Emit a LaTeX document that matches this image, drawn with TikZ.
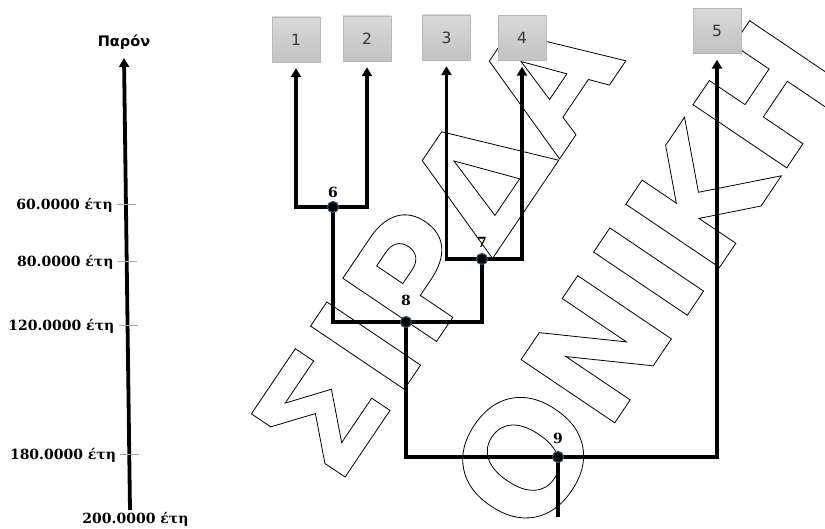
\documentclass[tikz,border=0pt]{standalone}
\usepackage{fontspec}
\usepackage{xcolor}
\usepackage{tikz}
\usetikzlibrary{arrows.meta, calc, positioning}
\newfontfamily\lblfont{DejaVu Serif}
\newfontfamily\boxfont{DejaVu Sans}
\newcommand{\hollow}[1]{\special{pdf:literal direct 1 Tr 0.8 w}#1\special{pdf:literal direct 0 Tr}}
\definecolor{boxtop}{HTML}{D9D9D9}
\definecolor{boxbot}{HTML}{C2C2C2}
\definecolor{boxline}{HTML}{B8B8B8}
\definecolor{dotring}{HTML}{2E4F70}

\begin{document}
\begin{tikzpicture}[x=1pt, y=-1pt,
	taxon/.style={rectangle, draw=boxline, top color=boxtop, bottom color=boxbot, minimum width=48pt, minimum height=45pt, inner sep=0pt, font=\boxfont\fontsize{15.5}{15.5}\selectfont, text=black!78},
	branch/.style={line width=3.8pt, line join=miter},
	shoot/.style={branch, -{Triangle[width=10pt,length=9pt]}, shorten >=6pt},
	split/.style={circle, fill=black, draw=dotring, line width=1.2pt, minimum size=11pt, inner sep=0pt},
	num/.style={font=\lblfont\bfseries\fontsize{14}{14}\selectfont, inner sep=0pt},
	years/.style={font=\lblfont\bfseries\fontsize{14}{14}\selectfont, inner sep=0pt},
	yeartick/.style={gray!70, line width=0.8pt},
	stamp/.style={font=\boxfont\bfseries\fontsize{155}{155}\selectfont, rotate=56, anchor=base west, inner sep=0pt}]

	\useasboundingbox (0,0) rectangle (825,529);

	% watermark
	\node[stamp] (wm1) at (337,489) {\hollow{ΣΙΡΔΑ}};
	\node[stamp] (wm2) at (533,544) {\hollow{ΟΝΙΚΗ}};

	% time axis
	\coordinate (axbot) at (130,510);
	\coordinate (axtop) at (124,58);
	\draw[branch, -{Triangle[width=10pt,length=9pt]}] (axbot) -- (axtop);
	\node[font=\boxfont\bfseries\fontsize{14.5}{14.5}\selectfont, inner sep=0pt] (now) at (124,42) {Παρόν};
	\foreach \y/\yr in {204/60, 261/80, 325/120, 454/180}{
		\coordinate (tk) at ($(axbot)!{(510-\y)/452}!(axtop)$);
		\draw[yeartick] ($(tk)+(-9,0)$) -- ($(tk)+(10,0)$);
		\node[years, anchor=base east] (y\yr) at ($(tk)+(-13,5)$) {\yr.0000 έτη};
	}
	\node[years, anchor=base] (y200) at (135.5,523) {200.0000 έτη};

	% taxa
	\node[taxon] (b1) at (296,39.5) {1};
	\node[taxon] (b2) at (367,38.5) {2};
	\node[taxon] (b3) at (446.5,37.5) {3};
	\node[taxon] (b4) at (522,38) {4};
	\node[taxon] (b5) at (717,31) {5};

	\coordinate (n6) at (333,207);
	\coordinate (n7) at (482,259);
	\coordinate (n8) at (406,322);
	\coordinate (n9) at (558,457);
	\coordinate (root) at (558,517);

	\draw[shoot] (n6) -| (b1);
	\draw[shoot] (n6) -| (b2);
	\draw[shoot] (n7) -| (b3);
	\draw[shoot] (n7) -| (b4);
	\draw[branch] (n8) -| (n6);
	\draw[branch] (n8) -| (n7);
	\draw[branch] (n9) -| (n8);
	\draw[shoot] (n9) -| (b5);
	\draw[branch] (n9) -- (root);

	\node[split] (d6) at (n6) {};
	\node[split] (d7) at (n7) {};
	\node[split] (d8) at (n8) {};
	\node[split] (d9) at (n9) {};
	\node[num, above=3pt of d6] (l6) {6};
	\node[num, above=5pt of d7] (l7) {7};
	\node[num, above=10pt of d8] (l8) {8};
	\node[num, above=7pt of d9] (l9) {9};
\end{tikzpicture}
\end{document}
